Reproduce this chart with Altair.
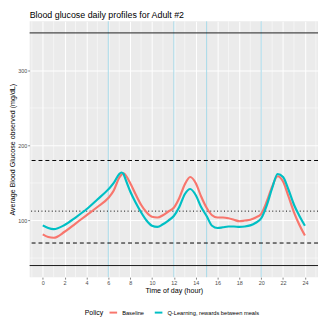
import altair as alt
import pandas as pd

hours = [0, 0.5, 1, 2, 3, 4, 5, 6, 6.5, 7, 7.2, 7.4, 7.5, 8, 8.5, 9, 9.5, 10, 10.5, 11, 11.5,
         12, 12.5, 13, 13.5, 14, 14.5, 15, 15.5, 16, 16.5, 17, 17.5, 18, 18.5, 19, 19.5,
         20, 20.5, 21, 21.5, 22, 22.5, 23, 23.5, 24]
baseline = [81.5, 78, 77, 85, 96, 107, 118, 130, 140, 157, 161, 163, 162, 150, 135, 121, 111, 105, 104, 107, 112,
            117, 130, 148, 158, 150, 132, 117, 107, 104, 104, 103, 101, 99, 100, 101, 104,
            109, 125, 145, 159, 152, 132, 111, 94, 80]
qlearn = [93.5, 90, 88.5, 94, 104, 115, 128, 141.5, 150, 162, 164, 162, 158, 139, 124, 111, 100, 93, 91.5, 95, 100,
          106, 118, 135, 142, 134, 118, 106, 93, 90, 91, 92, 92, 91.5, 92, 93.5, 97,
          103, 120, 143, 162, 158, 141, 121, 106, 93]
policies = ["Baseline", "Q-Learning, rewards between meals"]
colors = ["#F8766D", "#00BFC4"]

solid_h = [40, 350]
dashed_h = [70, 180]
dotted_h = [112.5]
meal_v = [6, 12, 15, 20]
x_major = list(range(0, 25, 2))
x_minor = [-1] + list(range(1, 26, 2))
y_major = [100, 200, 300]
y_minor = [50, 150, 250, 350]

df = pd.DataFrame({
    "hour": hours * 2,
    "bg": baseline + qlearn,
    "Policy": [policies[0]] * len(hours) + [policies[1]] * len(hours),
})

xs = alt.Scale(domain=[-1.2, 25.2], nice=False, zero=False)
ys = alt.Scale(domain=[24.5, 365.5], nice=False, zero=False)
xtitle = "Time of day (hour)"
ytitle = "Average Blood Glucose observed (mg/dL)"
xaxis = alt.Axis(values=x_major, grid=True, format="d", title=xtitle)
yaxis = alt.Axis(values=y_major, grid=True, title=ytitle)


def X(field):
    return alt.X(field, scale=xs, axis=xaxis, title=xtitle)


def Y(field):
    return alt.Y(field, scale=ys, axis=yaxis, title=ytitle)


xminor = alt.Chart(pd.DataFrame({"v": x_minor})).mark_rule(color="white", strokeWidth=0.5).encode(x=X("v:Q"))
yminor = alt.Chart(pd.DataFrame({"v": y_minor})).mark_rule(color="white", strokeWidth=0.5).encode(y=Y("v:Q"))
vlines = alt.Chart(pd.DataFrame({"v": meal_v})).mark_rule(color="#A6D8E8", strokeWidth=1).encode(x=X("v:Q"))
hsolid = alt.Chart(pd.DataFrame({"v": solid_h})).mark_rule(color="#1a1a1a", strokeWidth=1).encode(y=Y("v:Q"))
hdash = alt.Chart(pd.DataFrame({"v": dashed_h})).mark_rule(color="black", strokeWidth=1, strokeDash=[4, 3]).encode(y=Y("v:Q"))
hdot = alt.Chart(pd.DataFrame({"v": dotted_h})).mark_rule(color="black", strokeWidth=1, strokeDash=[1, 2.5]).encode(y=Y("v:Q"))

lines = alt.Chart(df).mark_line(strokeWidth=2.2, interpolate="monotone").encode(
    x=X("hour:Q"),
    y=Y("bg:Q"),
    color=alt.Color("Policy:N", scale=alt.Scale(domain=policies, range=colors),
                    legend=alt.Legend(orient="none", direction="horizontal", titleOrient="left",
                                      legendX=56, legendY=291, symbolType="stroke",
                                      symbolStrokeWidth=2, symbolSize=60)),
)

chart = alt.layer(xminor, yminor, vlines, hsolid, hdash, hdot, lines).properties(
    width=293, height=260,
    title=alt.TitleParams("Blood glucose daily profiles for Adult #2", anchor="start", frame="group",
                          fontSize=9, font="Liberation Sans", fontWeight="normal", color="black", offset=1),
    padding={"left": 0, "top": 0, "right": 0, "bottom": 0},
).configure_view(fill="#EBEBEB", stroke=None).configure_axis(
    labelFont="Liberation Sans", titleFont="Liberation Sans", labelFontSize=5.5, titleFontSize=7.2,
    labelColor="#4D4D4D", titleColor="black", titleFontWeight="normal", tickColor="#333333",
    tickSize=2, tickWidth=0.6, domain=False, gridColor="white", gridWidth=1, labelPadding=1,
    titlePadding=1,
).configure_legend(
    labelFont="Liberation Sans", titleFont="Liberation Sans", labelFontSize=5.8, titleFontSize=7,
    titleFontWeight="normal", titleColor="black", labelColor="black", columnPadding=6, symbolOffset=0,
)

chart.save("out.html", embed_options={"renderer": "svg", "actions": False})
